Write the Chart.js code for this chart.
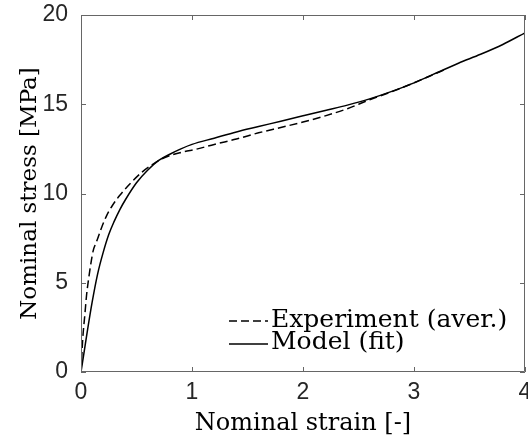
<!DOCTYPE html>
<html>
<head>
<meta charset="utf-8">
<script src="https://cdn.jsdelivr.net/npm/chart.js@4"></script>
<style>
  html, body { margin: 0; padding: 0; background: #fff; }
  #wrap { width: 528px; height: 445px; }
</style>
</head>
<body>
<div id="wrap"><canvas id="chart" width="528" height="445"></canvas></div>
<script>
// Experiment (averaged)
const expStrain = [0, 0.015, 0.036, 0.05, 0.066, 0.087, 0.11, 0.14, 0.18, 0.23, 0.28, 0.35, 0.45, 0.55, 0.65, 0.75, 0.9, 1.05, 1.2, 1.4, 1.6, 1.8, 2.0, 2.2, 2.4, 2.6, 2.8, 3.0, 3.15, 3.3];
const expStress = [0, 1.8, 3.3, 4.3, 5.1, 6.0, 6.8, 7.3, 8.0, 8.75, 9.3, 9.9, 10.6, 11.2, 11.65, 12.0, 12.3, 12.5, 12.75, 13.05, 13.4, 13.7, 14.0, 14.35, 14.75, 15.25, 15.7, 16.2, 16.6, 17.0];

// Model fit
const modelStrain = [0, 0.03, 0.06, 0.1, 0.15, 0.2, 0.25, 0.3, 0.35, 0.4, 0.5, 0.6, 0.7, 0.8, 0.9, 1.0, 1.2, 1.4, 1.6, 1.8, 2.0, 2.2, 2.4, 2.6, 2.8, 3.0, 3.2, 3.4, 3.6, 3.8, 4.0];
const modelStress = [0, 1.2, 2.4, 3.9, 5.5, 6.7, 7.7, 8.45, 9.1, 9.65, 10.6, 11.3, 11.85, 12.2, 12.5, 12.75, 13.1, 13.45, 13.75, 14.05, 14.35, 14.65, 14.95, 15.3, 15.72, 16.2, 16.75, 17.3, 17.8, 18.35, 19.0];

const xTicks = [0, 1, 2, 3, 4];
const yTicks = [0, 5, 10, 15, 20];
const seriesLabels = ['Experiment (aver.)', 'Model (fit)'];

const SERIF = '"DejaVu Serif", serif';
const SANS = '"Liberation Sans", Arial, sans-serif';
const AXIS_COLOR = '#666';
const DASH = [8, 4];

function toPoints(xs, ys) {
  return xs.map((x, i) => ({ x: x, y: ys[i] }));
}

// box around the plot with inward ticks on all four sides
const boxPlugin = {
  id: 'box',
  afterDatasetsDraw(chart) {
    const { ctx, chartArea: a, scales } = chart;
    const tl = 5;
    ctx.save();
    ctx.strokeStyle = AXIS_COLOR;
    ctx.lineWidth = 1;
    ctx.beginPath();
    ctx.rect(a.left + 0.5, a.top + 0.5, a.right - a.left - 1, a.bottom - a.top - 1);
    xTicks.forEach(v => {
      const px = Math.round(scales.x.getPixelForValue(v)) + 0.5;
      ctx.moveTo(px, a.bottom); ctx.lineTo(px, a.bottom - tl);
      ctx.moveTo(px, a.top); ctx.lineTo(px, a.top + tl);
    });
    yTicks.forEach(v => {
      const py = Math.round(scales.y.getPixelForValue(v)) + 0.5;
      ctx.moveTo(a.left, py); ctx.lineTo(a.left + tl, py);
      ctx.moveTo(a.right, py); ctx.lineTo(a.right - tl, py);
    });
    ctx.stroke();
    ctx.restore();
  }
};

// legend drawn inside the axes, lower right, no frame
const legendPlugin = {
  id: 'insideLegend',
  afterDraw(chart) {
    const { ctx } = chart;
    const rows = [
      { label: seriesLabels[0], dash: DASH, lineY: 321, textY: 327 },
      { label: seriesLabels[1], dash: [], lineY: 344, textY: 349 }
    ];
    ctx.save();
    ctx.font = '25px ' + SERIF;
    ctx.fillStyle = '#000';
    ctx.textBaseline = 'alphabetic';
    ctx.textAlign = 'left';
    rows.forEach(r => {
      ctx.strokeStyle = '#000';
      ctx.lineWidth = 1.5;
      ctx.setLineDash(r.dash);
      ctx.beginPath();
      ctx.moveTo(229, r.lineY);
      ctx.lineTo(268, r.lineY);
      ctx.stroke();
      ctx.setLineDash([]);
      ctx.fillText(r.label, 271, r.textY);
    });
    ctx.restore();
  }
};

new Chart(document.getElementById('chart'), {
  type: 'line',
  data: {
    datasets: [
      {
        label: seriesLabels[0],
        data: toPoints(expStrain, expStress),
        borderColor: '#000',
        borderWidth: 1.5,
        borderDash: DASH,
        pointRadius: 0,
        cubicInterpolationMode: 'monotone',
        fill: false
      },
      {
        label: seriesLabels[1],
        data: toPoints(modelStrain, modelStress),
        borderColor: '#000',
        borderWidth: 1.5,
        pointRadius: 0,
        cubicInterpolationMode: 'monotone',
        fill: false
      }
    ]
  },
  options: {
    responsive: false,
    animation: false,
    layout: { padding: { top: 15, right: 3, left: 0, bottom: 0 } },
    plugins: {
      legend: { display: false },
      tooltip: { enabled: false }
    },
    scales: {
      x: {
        type: 'linear',
        min: 0,
        max: 4,
        afterBuildTicks: s => { s.ticks = xTicks.map(v => ({ value: v })); },
        afterFit: s => { s.height = 73; s.paddingLeft = 0; s.paddingRight = 0; },
        grid: { display: false, drawTicks: false },
        border: { display: false },
        ticks: {
          color: '#262626',
          padding: 7,
          maxRotation: 0,
          font: { family: SANS, size: 23 }
        },
        title: {
          display: true,
          text: 'Nominal strain [-]',
          color: '#000',
          padding: { top: 0, bottom: 7 },
          font: { family: SERIF, size: 24 }
        }
      },
      y: {
        type: 'linear',
        min: 0,
        max: 20,
        afterBuildTicks: s => { s.ticks = yTicks.map(v => ({ value: v })); },
        afterFit: s => { s.width = 81; s.paddingTop = 0; s.paddingBottom = 0; },
        grid: { display: false, drawTicks: false },
        border: { display: false },
        ticks: {
          color: '#262626',
          padding: 13,
          font: { family: SANS, size: 23 }
        },
        title: {
          display: true,
          text: 'Nominal stress [MPa]',
          color: '#000',
          padding: { top: 16, bottom: 0 },
          font: { family: SERIF, size: 23 }
        }
      }
    }
  },
  plugins: [boxPlugin, legendPlugin]
});
</script>
</body>
</html>
